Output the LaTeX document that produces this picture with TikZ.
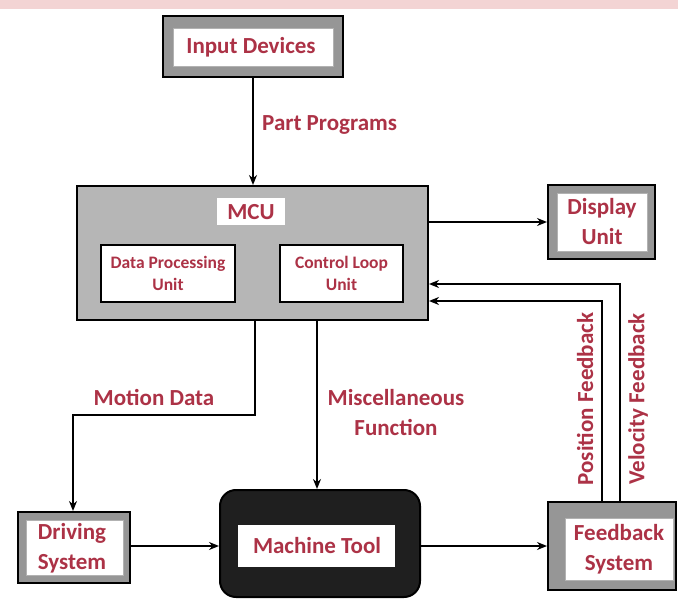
\documentclass[tikz,border=0pt]{standalone}
\usepackage{fontspec}
\setmainfont{Carlito}
\usetikzlibrary{arrows.meta}
\definecolor{lbl}{RGB}{172,50,70}
\definecolor{framegray}{RGB}{150,150,150}
\definecolor{mcugray}{RGB}{182,182,182}
\definecolor{band}{RGB}{243,212,212}
\tikzset{
  frame/.style={draw=black, line width=2pt, fill=framegray, inner sep=0pt},
  whitein/.style={fill=white, draw=gray!60, line width=0.6pt},
  subbox/.style={draw=black, line width=1.8pt, fill=white, inner sep=0pt, align=center,
    font=\fontsize{17.5}{22}\selectfont\bfseries, text=lbl},
  big/.style={font=\fontsize{23}{30}\selectfont\bfseries, text=lbl, align=center, inner sep=0pt},
  arr/.style={line width=2pt, -{Stealth[length=10pt,width=8pt]}},
  ln/.style={line width=2pt}
}
\begin{document}
\begin{tikzpicture}[x=1pt,y=-1pt]
\path[use as bounding box] (0,0) rectangle (678,599);
\fill[band] (0,0) rectangle (678,9);

% Input Devices
\node[frame, minimum width=180pt, minimum height=61pt] (inp) at (253,46.5) {};
\filldraw[whitein] (173,28) rectangle (333,66);
\node[big] (inpt) at (251,47) {Input Devices};

% MCU
\node[frame, fill=mcugray, minimum width=351pt, minimum height=134pt] (mcu) at (252.5,253) {};
\node[fill=white, minimum width=68pt, minimum height=27pt, inner sep=0pt, big] (mcut) at (251,212) {MCU};
\node[subbox, minimum width=134pt, minimum height=57pt] (dpu) at (168,273.5) {Data Processing\\Unit};
\node[subbox, minimum width=123pt, minimum height=57pt] (clu) at (341.5,273.5) {Control Loop\\Unit};

% Display Unit
\node[frame, minimum width=107pt, minimum height=74pt] (disp) at (601.5,222) {};
\filldraw[whitein] (557,193) rectangle (647,251);
\node[big] (dispt) at (602,222) {Display\\Unit};

% Driving System
\node[frame, minimum width=112pt, minimum height=71pt] (drv) at (74,547.5) {};
\filldraw[whitein] (26,520) rectangle (123,575);
\node[big] (drvt) at (72,548) {Driving\\System};

% Machine Tool
\node[draw=black, line width=2pt, fill=black!88, rounded corners=16pt, minimum width=200pt, minimum height=107pt] (mt) at (320,543.5) {};
\fill[white] (238,525) rectangle (395,567);
\node[big] (mtt) at (317,546) {Machine Tool};

% Feedback System
\node[frame, minimum width=128pt, minimum height=88pt] (fb) at (612,546) {};
\filldraw[whitein] (565,518) rectangle (673,580);
\node[big] (fbt) at (619,549) {Feedback\\System};

% connectors
\draw[arr] (inp.south) -- (inp.south |- mcu.north);
\node[big, anchor=west] (pp) at (262,125) {Part Programs};

\draw[arr] (mcu.east |- disp.west) -- (disp.west);

\coordinate (m1) at (255,415);
\coordinate (m2) at (73,415);
\draw[arr] (m1 |- mcu.south) -- (m1) -- (m2) -- (m2 |- drv.north);
\node[big] (md) at (154,397) {Motion Data};

\coordinate (mf) at (317,400);
\draw[arr] (mf |- mcu.south) -- (mf |- mt.north);
\node[big] (misc) at (396,413) {Miscellaneous\\Function};

\draw[arr] (drv.east |- 0,546) -- (mt.west |- 0,546);
\draw[arr] (mt.east |- 0,546) -- (fb.west |- 0,546);

\coordinate (v) at (620,284);
\coordinate (p) at (602,301);
\draw[arr] (v |- fb.north) -- (v) -- (v -| mcu.east);
\draw[arr] (p |- fb.north) -- (p) -- (p -| mcu.east);
\node[big, rotate=90] (pf) at (585,399) {Position Feedback};
\node[big, rotate=90] (vf) at (638,399) {Velocity Feedback};
\end{tikzpicture}
\end{document}
